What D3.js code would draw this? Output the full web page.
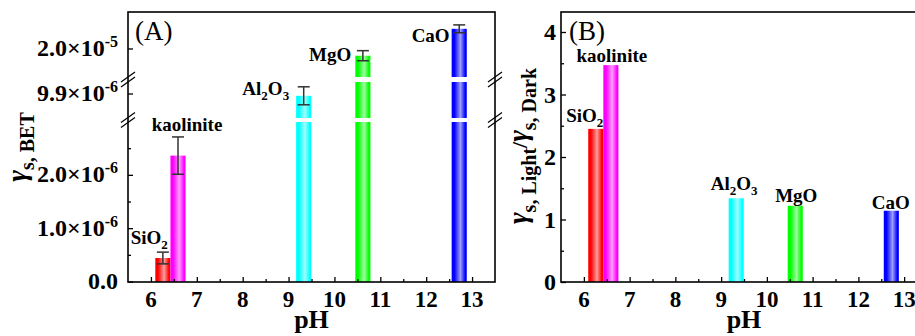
<!DOCTYPE html>
<html>
<head>
<meta charset="utf-8">
<script src="https://cdn.jsdelivr.net/npm/d3@7"></script>
<style>
  body { margin: 0; background: #fff; }
  svg { display: block; }
  svg text { font-family: 'Liberation Serif', 'Times New Roman', Times, serif; }
</style>
</head>
<body>
<div id="chart"></div>
<script>
'use strict';
// values
var materials = ['SiO2', 'kaolinite', 'Al2O3', 'MgO', 'CaO'];
var pH = [6.26, 6.59, 9.33, 10.62, 12.72];
var gammaBET = [0.45e-6, 2.37e-6, 9.87e-6, 1.988e-5, 2.036e-5];
var gammaBETErr = [0.11e-6, 0.35e-6, 0.15e-6, 0.09e-6, 0.07e-6];
var gammaRatio = [2.45, 3.47, 1.34, 1.22, 1.14];
var barColors = ['#ff0000', '#ff00ff', '#00ffff', '#00ff00', '#0000ff'];

var xTicks = [6, 7, 8, 9, 10, 11, 12, 13];
var xMinorTicks = [6.5, 7.5, 8.5, 9.5, 10.5, 11.5, 12.5];
var yTicksA = [0, 1e-6, 2e-6, 9.9e-6, 2.0e-5];
var yTickLabelsA = ['0.0', '1.0\u00d710^-6', '2.0\u00d710^-6', '9.9\u00d710^-6', '2.0\u00d710^-5'];
var yMinorTicksA = [0.5e-6, 1.5e-6, 2.5e-6];
var yTicksB = [0, 1, 2, 3, 4];
var yMinorTicksB = [0.5, 1.5, 2.5, 3.5];

// layout
var W = 915, H = 336;
var plotTop = 12, plotBottom = 282;
var panelA = {left: 128, right: 495};
var panelB = {left: 561, right: 927};
var barHalf = 0.165;   // half bar width in pH units
var serif = 'Liberation Serif';

// broken y axis of panel (A): three stacked pieces
var segsA = [
  {lo: 0, hi: 3e-6, r0: plotBottom, r1: 122},
  {lo: 9.5e-6, hi: 1.01e-5, r0: 118, r1: 82},
  {lo: 1.95e-5, hi: 2.066e-5, r0: 77, r1: plotTop}
];
segsA.forEach(function(s) {
  s.scale = d3.scaleLinear().domain([s.lo, s.hi]).range([s.r0, s.r1]);
});
function yA(v) {
  for (var i = segsA.length - 1; i >= 0; i--) {
    if (v >= segsA[i].lo) return segsA[i].scale(v);
  }
  return segsA[0].scale(v);
}

var xA = d3.scaleLinear().domain([5.5, 13.5]).range([panelA.left, panelA.right]);
var xB = d3.scaleLinear().domain([5.5, 13.5]).range([panelB.left, panelB.right]);
var yB = d3.scaleLinear().domain([0, 4.32]).range([plotBottom, plotTop]);

var svg = d3.select('#chart').append('svg')
    .attr('width', W)
    .attr('height', H);

// bar gradients: saturated edges, pale middle
var defs = svg.append('defs');
barColors.forEach(function(c, i) {
  var g = defs.append('linearGradient').attr('id', 'grad' + i)
      .attr('x1', 0).attr('x2', 1).attr('y1', 0).attr('y2', 0);
  var light = d3.interpolateRgb(c, '#fff')(0.62);
  [[0, c], [0.18, c], [0.58, light], [0.9, c], [1, c]].forEach(function(s) {
    g.append('stop').attr('offset', s[0]).attr('stop-color', s[1]);
  });
});

function label(g, x, y, size, anchor, bold) {
  return g.append('text').attr('x', x).attr('y', y)
      .attr('font-family', serif)
      .attr('font-size', size)
      .attr('font-weight', bold ? 'bold' : 'normal')
      .attr('text-anchor', anchor);
}

// chemical formula with subscript digits
function formula(sel, str, subSize, subDy) {
  var shifted = false;
  str.match(/[^0-9]+|[0-9]+/g).forEach(function(part) {
    var isSub = /^[0-9]+$/.test(part);
    var t = sel.append('tspan').text(part);
    if (isSub) {
      t.attr('font-size', subSize).attr('dy', subDy);
      shifted = true;
    } else if (shifted) {
      t.attr('dy', -subDy);
      shifted = false;
    }
  });
}

function ticks(g, axisFn, scale, vals, size) {
  g.call(axisFn(scale).tickValues(vals).tickSize(-size).tickSizeOuter(0).tickFormat(''))
    .call(function(s) { s.select('.domain').remove(); })
    .selectAll('line').attr('stroke', '#000').attr('stroke-width', 1.3);
}

// ---------------- panel (A) ----------------
var gA = svg.append('g');

materials.forEach(function(m, i) {
  var x0 = xA(pH[i] - barHalf), x1 = xA(pH[i] + barHalf);
  segsA.forEach(function(s) {
    if (gammaBET[i] <= s.lo) return;
    var yt = s.scale(Math.min(gammaBET[i], s.hi));
    gA.append('rect')
        .attr('x', x0).attr('width', x1 - x0)
        .attr('y', yt).attr('height', s.scale(s.lo) - yt)
        .attr('fill', 'url(#grad' + i + ')');
  });
});

// error bars
materials.forEach(function(m, i) {
  var cx = xA(pH[i]);
  var yHi = yA(gammaBET[i] + gammaBETErr[i]), yLo = yA(gammaBET[i] - gammaBETErr[i]);
  var e = gA.append('g').attr('stroke', '#333').attr('stroke-width', 1.5);
  e.append('line').attr('x1', cx).attr('x2', cx).attr('y1', yHi).attr('y2', yLo);
  e.append('line').attr('x1', cx - 6).attr('x2', cx + 6).attr('y1', yHi).attr('y2', yHi);
  e.append('line').attr('x1', cx - 6).attr('x2', cx + 6).attr('y1', yLo).attr('y2', yLo);
});

// bar labels (A)
var labelPosA = [
  function(i) { return [xA(pH[i]) + 5, 244, 'end']; },
  function(i) { return [xA(pH[i]) + 9, yA(gammaBET[i] + gammaBETErr[i]) - 6, 'middle']; },
  function(i) { return [xA(pH[i] - barHalf) - 7, yA(gammaBET[i]) - 1, 'end']; },
  function(i) { return [xA(pH[i] - barHalf) - 4, yA(gammaBET[i]) + 5, 'end']; },
  function(i) { return [xA(pH[i] - barHalf) - 2, yA(gammaBET[i]) + 13, 'end']; }
];
materials.forEach(function(m, i) {
  var p = labelPosA[i](i);
  formula(label(gA, p[0], p[1], 19, p[2], true), m, 13, 5);
});

// frame
gA.append('rect')
    .attr('x', panelA.left).attr('y', plotTop)
    .attr('width', panelA.right - panelA.left).attr('height', plotBottom - plotTop)
    .attr('fill', 'none').attr('stroke', '#000').attr('stroke-width', 1.6);

// ticks (A)
ticks(gA.append('g').attr('transform', 'translate(0,' + plotBottom + ')'), d3.axisBottom, xA, xTicks, 5);
ticks(gA.append('g').attr('transform', 'translate(0,' + plotBottom + ')'), d3.axisBottom, xA, xMinorTicks, 3);
yTicksA.forEach(function(v) {
  gA.append('line').attr('x1', panelA.left).attr('x2', panelA.left + 5)
      .attr('y1', yA(v)).attr('y2', yA(v)).attr('stroke', '#000').attr('stroke-width', 1.3);
});
yMinorTicksA.forEach(function(v) {
  gA.append('line').attr('x1', panelA.left).attr('x2', panelA.left + 3)
      .attr('y1', yA(v)).attr('y2', yA(v)).attr('stroke', '#000').attr('stroke-width', 1.3);
});

// tick labels (A)
xTicks.forEach(function(v) {
  label(gA, xA(v), 307, 23, 'middle', true).text(v);
});
yTicksA.forEach(function(v, i) {
  var parts = yTickLabelsA[i].split('^');
  var t = label(gA, panelA.left - 10, yA(v) + 7, 24, 'end', true);
  t.append('tspan').text(parts[0]);
  if (parts[1]) t.append('tspan').attr('font-size', 16).attr('dy', -9).text(parts[1]);
});

// axis break marks
[panelA.left, panelA.right].forEach(function(x) {
  [(segsA[1].r1 + segsA[2].r0) / 2, (segsA[0].r1 + segsA[1].r0) / 2].forEach(function(y) {
    [-2.5, 2.5].forEach(function(o) {
      gA.append('line')
          .attr('x1', x - 7).attr('y1', y + o + 5)
          .attr('x2', x + 7).attr('y2', y + o - 5)
          .attr('stroke', '#000').attr('stroke-width', 1.2);
    });
  });
});

label(gA, 135, 40, 27, 'start', false).text('(A)');
label(gA, (panelA.left + panelA.right) / 2, 328, 26, 'middle', true).text('pH');

var tA = label(gA, 0, 0, 20, 'middle', true).attr('transform', 'translate(26,147) rotate(-90)');
tA.append('tspan').attr('font-size', 28).attr('font-style', 'italic').text('\u03b3');
tA.append('tspan').attr('font-size', 20).attr('dy', 8).text('s, BET');

// ---------------- panel (B) ----------------
var gB = svg.append('g');

materials.forEach(function(m, i) {
  var x0 = xB(pH[i] - barHalf), x1 = xB(pH[i] + barHalf);
  gB.append('rect')
      .attr('x', x0).attr('width', x1 - x0)
      .attr('y', yB(gammaRatio[i])).attr('height', yB(0) - yB(gammaRatio[i]))
      .attr('fill', 'url(#grad' + i + ')');
});

var labelPosB = [
  function(i) { return [xB(pH[i] + barHalf), yB(gammaRatio[i]) - 7, 'end']; },
  function(i) { return [xB(pH[i]) + 1, yB(gammaRatio[i]) - 3, 'middle']; },
  function(i) { return [xB(pH[i]) - 2, yB(gammaRatio[i]) - 8, 'middle']; },
  function(i) { return [xB(pH[i]) + 1, yB(gammaRatio[i]) - 4, 'middle']; },
  function(i) { return [xB(pH[i]) - 0.5, yB(gammaRatio[i]) - 2, 'middle']; }
];
materials.forEach(function(m, i) {
  var p = labelPosB[i](i);
  formula(label(gB, p[0], p[1], 19, p[2], true), m, 13, 5);
});

gB.append('rect')
    .attr('x', panelB.left).attr('y', plotTop)
    .attr('width', panelB.right - panelB.left).attr('height', plotBottom - plotTop)
    .attr('fill', 'none').attr('stroke', '#000').attr('stroke-width', 1.6);

ticks(gB.append('g').attr('transform', 'translate(0,' + plotBottom + ')'), d3.axisBottom, xB, xTicks, 5);
ticks(gB.append('g').attr('transform', 'translate(0,' + plotBottom + ')'), d3.axisBottom, xB, xMinorTicks, 3);
ticks(gB.append('g').attr('transform', 'translate(' + panelB.left + ',0)'), d3.axisLeft, yB, yTicksB, 5);
ticks(gB.append('g').attr('transform', 'translate(' + panelB.left + ',0)'), d3.axisLeft, yB, yMinorTicksB, 3);

xTicks.forEach(function(v) {
  label(gB, xB(v), 307, 23, 'middle', true).text(v);
});
yTicksB.forEach(function(v) {
  label(gB, panelB.left - 5, yB(v) + 8, 24, 'end', true).text(v);
});

label(gB, 569, 40, 27, 'start', false).text('(B)');
label(gB, 744, 328, 26, 'middle', true).text('pH');

var tB = label(gB, 0, 0, 20, 'middle', true).attr('transform', 'translate(527,146) rotate(-90)');
tB.append('tspan').attr('font-size', 28).attr('font-style', 'italic').text('\u03b3');
tB.append('tspan').attr('font-size', 20).attr('dy', 9).text('s, Light');
tB.append('tspan').attr('font-size', 22).attr('dy', -9).text('/');
tB.append('tspan').attr('font-size', 28).attr('font-style', 'italic').text('\u03b3');
tB.append('tspan').attr('font-size', 20).attr('dy', 9).text('s, Dark');
</script>
</body>
</html>
